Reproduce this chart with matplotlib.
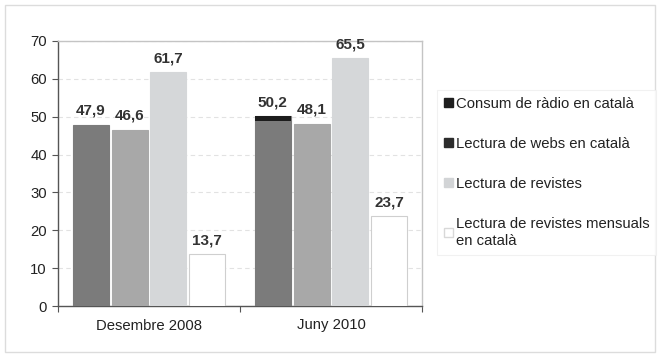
import numpy as np
import matplotlib.pyplot as plt
from matplotlib.patches import Patch, Rectangle

plt.rcParams['font.family'] = ['Liberation Sans', 'DejaVu Sans']

# dades
periodes = ["Desembre 2008", "Juny 2010"]
series = ["Consum de ràdio en català",
          "Lectura de webs en català",
          "Lectura de revistes",
          "Lectura de revistes mensuals\nen català"]
valors = [
    [47.9, 50.2],
    [46.6, 48.1],
    [61.7, 65.5],
    [13.7, 23.7],
]
# franja negra a dalt de la primera barra de 2010
franja_inici = [None, 48.8]
etiquetes = [["47,9", "50,2"], ["46,6", "48,1"], ["61,7", "65,5"], ["13,7", "23,7"]]

colors_barra = ["#7b7b7b", "#a8a8a8", "#d5d7d9", "#ffffff"]
vores_barra = ["#7b7b7b", "#a8a8a8", "#d5d7d9", "#cfcfcf"]
colors_llegenda = ["#1e1e1e", "#2c2c2c", "#d2d4d6", "#ffffff"]

fig = plt.figure(figsize=(6.6, 3.57), dpi=100)
ax = fig.add_axes([58/660, 1-306/357, 364/660, 265/357])

x = np.arange(len(periodes))
amp = 0.198
pas = 0.213
for i, vals in enumerate(valors):
    pos = x + (i - 1.5) * pas
    ax.bar(pos, vals, amp, color=colors_barra[i], edgecolor=vores_barra[i],
           linewidth=0.8, zorder=3)
    for j, v in enumerate(vals):
        ax.annotate(etiquetes[i][j], (pos[j], v), xytext=(0, 5),
                    textcoords="offset points", ha="center", va="bottom",
                    fontsize=11, fontweight="bold", color="#333333")
    if i == 0:
        for j, ini in enumerate(franja_inici):
            if ini is not None:
                ax.bar(pos[j], vals[j] - ini, amp, bottom=ini, color="#1c1c1c",
                       linewidth=0, zorder=4)

ax.set_xlim(-0.5, 1.5)
ax.set_ylim(0, 70)
ax.set_yticks(range(0, 71, 10))
ax.set_xticks([-0.5, 0.5, 1.5])
ax.set_xticklabels([])
ax.set_xticks(x, minor=True)
ax.set_xticklabels(periodes, minor=True)
ax.tick_params(axis="x", which="minor", length=0, pad=9, labelsize=10.7, labelcolor="#222222")
ax.tick_params(axis="x", which="major", length=4, color="#555555", direction="out")
ax.tick_params(axis="y", length=4, color="#555555", labelsize=10.7, labelcolor="#222222", pad=4)
ax.yaxis.grid(True, linestyle=(0, (4, 3)), color="#e2e2e2", linewidth=0.8, zorder=0)
for s in ["left", "bottom"]:
    ax.spines[s].set_color("#555555")
    ax.spines[s].set_linewidth(1.0)
for s in ["top", "right"]:
    ax.spines[s].set_color("#c4c4c4")
    ax.spines[s].set_linewidth(1.0)

handles = [Patch(facecolor=colors_llegenda[i],
                 edgecolor="#d8d8d8" if i == 3 else colors_llegenda[i],
                 label=series[i]) for i in range(len(series))]
leg = fig.legend(handles=handles, loc="upper left",
                 bbox_to_anchor=(437/660, 1-90/357), fontsize=10.7,
                 handlelength=0.6, handleheight=0.6, handletextpad=0.2,
                 labelspacing=1.75, borderpad=0.45, frameon=True, fancybox=False,
                 borderaxespad=0)
leg.get_frame().set_edgecolor("#eeeeee")
leg.get_frame().set_linewidth(0.8)
for t in leg.get_texts():
    t.set_color("#222222")
    t.set_linespacing(1.3)

fig.patches.append(Rectangle((5/660, 5/357), 650/660, 347/357, transform=fig.transFigure,
                             fill=False, edgecolor="#dcdcdc", linewidth=1.0))

fig.savefig("out.png", dpi=100)
